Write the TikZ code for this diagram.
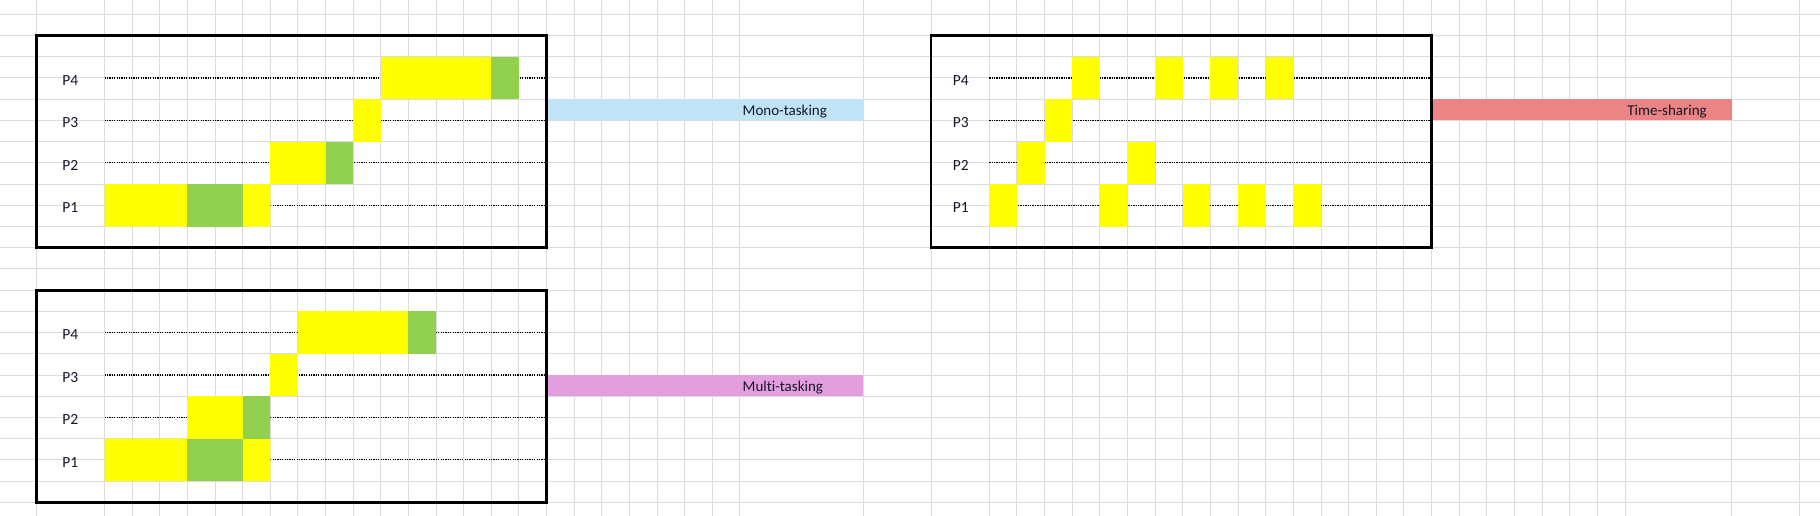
\documentclass[tikz,border=0pt]{standalone}
\usepackage{fontspec}
\setmainfont{Carlito}[Ligatures=NoCommon]
\usepackage{tikz}

\definecolor{gridgray}{HTML}{DCDCDC}
\definecolor{runyellow}{HTML}{FFFF00}
\definecolor{waitgreen}{HTML}{92D050}
\definecolor{monoblue}{HTML}{C0E4F5}
\definecolor{multipink}{HTML}{E39FDD}
\definecolor{timered}{HTML}{EC8384}
\definecolor{inknavy}{HTML}{16162A}

\begin{document}
\begin{tikzpicture}[x=1pt,y=-1pt,
        gridline/.style={draw=gridgray,line width=1pt},
        runbox/.style={fill=runyellow},
        waitbox/.style={fill=waitgreen},
        traceline/.style={line width=1.1pt,dash pattern=on 1.3pt off 1.1pt},
        chartframe/.style={line width=2.7pt},
        plabel/.style={font=\fontsize{15.5}{18}\selectfont,text=inknavy,anchor=base,inner sep=0pt,yshift=-7.3pt},
        bartext/.style={font=\fontsize{15}{18}\selectfont,text=inknavy,anchor=base west,inner sep=0pt,yshift=4.5pt}]
        \useasboundingbox (0,0) rectangle (1820,516);

        % sheet grid
        \foreach \k in {0,...,23}
            \draw[gridline] (0,{14.3+21.22*\k}) -- (1820,{14.3+21.22*\k});
        \foreach \j in {0,...,23}
            \draw[gridline] ({104.5+27.63*\j},0) -- ({104.5+27.63*\j},516);
        \foreach \j in {0,...,23}
            \draw[gridline] ({989.2+27.65*\j},0) -- ({989.2+27.65*\j},516);
        \foreach \x in {36.3,863.3,931.3,1731.7,1799.3}
            \draw[gridline] (\x,0) -- (\x,516);

        % mono-tasking
        \begin{scope}[shift={(104.5pt,-14.3pt)},x=27.63pt,y=-21.22pt]
            \fill[monoblue] (16,4) rectangle (27.46,5);
            \draw[traceline] (0,3) -- (15.95,3) (0,5) -- (15.95,5);
            \draw[traceline] (0,7) -- (15.95,7) (0,9) -- (15.95,9);

            \fill[runbox] (0,8) rectangle (3,10) (5,8) rectangle (6,10);
            \fill[waitbox] (3,8) rectangle (5,10);
            \fill[runbox] (6,6) rectangle (8,8);
            \fill[waitbox] (8,6) rectangle (9,8);
            \fill[runbox] (9,4) rectangle (10,6);
            \fill[runbox] (10,2) rectangle (14,4);
            \fill[waitbox] (14,2) rectangle (15,4);

            \draw[chartframe] (-2.468,1) rectangle (16,11);
            \node[plabel] (m4) at (-1.24,3) {P4};
            \node[plabel] (m3) at (-1.24,5) {P3};
            \node[plabel] (m2) at (-1.24,7) {P2};
            \node[plabel] (m1) at (-1.24,9) {P1};
            \node[bartext,xshift=2.5pt] (mono) at (23,5) {Mono-tasking};
        \end{scope}

        % multi-tasking
        \begin{scope}[shift={(104.5pt,-14.3pt)},x=27.63pt,y=-21.22pt]
            \fill[multipink] (16,17) rectangle (27.46,18);
            \draw[traceline] (0,15) -- (15.95,15) (0,17) -- (15.95,17);
            \draw[traceline] (0,19) -- (15.95,19) (0,21) -- (15.95,21);

            \fill[runbox] (0,20) rectangle (3,22) (5,20) rectangle (6,22);
            \fill[waitbox] (3,20) rectangle (5,22);
            \fill[runbox] (3,18) rectangle (5,20);
            \fill[waitbox] (5,18) rectangle (6,20);
            \fill[runbox] (6,16) rectangle (7,18);
            \fill[runbox] (7,14) rectangle (11,16);
            \fill[waitbox] (11,14) rectangle (12,16);

            \draw[chartframe] (-2.468,13) rectangle (16,23);
            \node[plabel] (u4) at (-1.24,15) {P4};
            \node[plabel] (u3) at (-1.24,17) {P3};
            \node[plabel] (u2) at (-1.24,19) {P2};
            \node[plabel] (u1) at (-1.24,21) {P1};
            \node[bartext,xshift=2.5pt] (multi) at (23,18) {Multi-tasking};
        \end{scope}

        % time-sharing
        \begin{scope}[shift={(989.2pt,-14.3pt)},x=27.65pt,y=-21.22pt]
            \fill[timered] (16,4) rectangle (26.85,5);
            \draw[traceline] (0,3) -- (15.95,3) (0,5) -- (15.95,5);
            \draw[traceline] (0,7) -- (15.95,7) (0,9) -- (15.95,9);

            \foreach \t in {0,4,7,9,11}
                \fill[runbox] (\t,8) rectangle ++(1,2);
            \foreach \t in {1,5}
                \fill[runbox] (\t,6) rectangle ++(1,2);
            \fill[runbox] (2,4) rectangle (3,6);
            \foreach \t in {3,6,8,10}
                \fill[runbox] (\t,2) rectangle ++(1,2);

            \draw[chartframe] (-2.105,1) rectangle (16,11);
            \node[plabel] (t4) at (-1.03,3) {P4};
            \node[plabel] (t3) at (-1.03,5) {P3};
            \node[plabel] (t2) at (-1.03,7) {P2};
            \node[plabel] (t1) at (-1.03,9) {P1};
            \node[bartext,xshift=2pt] (time) at (23,5) {Time-sharing};
        \end{scope}
\end{tikzpicture}
\end{document}
